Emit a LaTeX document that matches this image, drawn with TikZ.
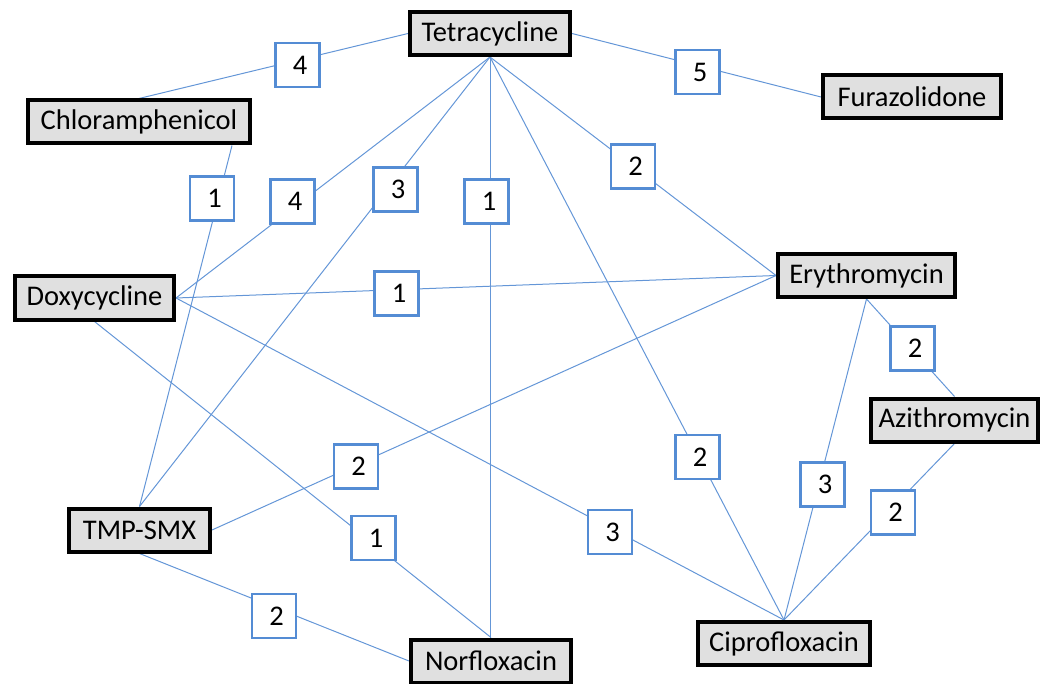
\documentclass[tikz,border=0pt]{standalone}
\usepackage{fontspec}
\setmainfont{Carlito}
\usetikzlibrary{backgrounds}
\definecolor{boxgray}{RGB}{224,224,224}
\definecolor{numblue}{RGB}{84,140,212}
\definecolor{edgeblue}{RGB}{100,150,215}
\tikzset{
  drug/.style={draw=black, line width=4pt, fill=boxgray, minimum height=43pt, inner sep=0pt,
    font=\fontsize{28.5}{30}\selectfont},
  num/.style={draw=numblue, line width=2.5pt, fill=white, minimum size=44pt, inner sep=0pt,
    font=\fontsize{28.5}{30}\selectfont, execute at begin node={\hspace*{5pt}}},
  edge/.style={draw=edgeblue, line width=1pt}
}
\begin{document}
\begin{tikzpicture}[x=1pt,y=-1pt]
\useasboundingbox (0,0) rectangle (1040,684);
% drug boxes
\node[drug, minimum width=160pt] (tet) at (490,33.5) {Tetracycline};
\node[drug, minimum width=222pt] (chl) at (139,122) {Chloramphenicol};
\node[drug, minimum width=178pt] (fur) at (912,97) {Furazolidone};
\node[drug, minimum width=159pt] (dox) at (94.5,298) {Doxycycline};
\node[drug, minimum width=177pt] (ery) at (866.5,275.5) {Erythromycin};
\node[drug, minimum width=167pt] (azi) at (954.5,420) {Azithromycin};
\node[drug, minimum width=141pt] (tmp) at (139.5,530) {TMP-SMX};
\node[drug, minimum width=160pt] (nor) at (491,661) {Norfloxacin};
\node[drug, minimum width=172pt] (cip) at (784,643.5) {Ciprofloxacin};
% number labels
\node[num] (n1) at (297.5,65) {4};
\node[num] (n2) at (697.5,72) {5};
\node[num] (n3) at (212,198.5) {1};
\node[num] (n4) at (292.5,201.5) {4};
\node[num] (n5) at (395.5,189.5) {3};
\node[num] (n6) at (486.5,201.5) {1};
\node[num] (n7) at (396.5,293.5) {1};
\node[num] (n8) at (633,166.5) {2};
\node[num] (n9) at (912.5,348.5) {2};
\node[num] (n10) at (356,466.5) {2};
\node[num] (n11) at (373.5,538) {1};
\node[num] (n12) at (274,616) {2};
\node[num] (n13) at (697.5,457) {2};
\node[num] (n14) at (610,532) {3};
\node[num] (n15) at (822.5,484.5) {3};
\node[num] (n16) at (893,512.5) {2};
% connectors
\begin{pgfonlayer}{background}
\draw[edge] (chl.north) -- (tet.west);
\draw[edge] (tet.east) -- (fur.west);
\draw[edge] ([xshift=-20pt]chl.south east) -- (tmp.north);
\draw[edge] (tet.south) -- (dox.east);
\draw[edge] (tet.south) -- (tmp.north);
\draw[edge] (tet.south) -- (tet.south |- nor.north);
\draw[edge] (dox.east) -- (ery.west);
\draw[edge] (tet.south) -- (ery.west);
\draw[edge] (ery.south) -- (azi.north);
\draw[edge] (ery.west) -- (tmp.east);
\draw[edge] (dox.south) -- (nor.north);
\draw[edge] (tmp.south) -- (nor.west);
\draw[edge] (tet.south) -- (cip.north);
\draw[edge] (dox.east) -- (cip.north);
\draw[edge] (ery.south) -- (cip.north);
\draw[edge] (azi.south) -- (cip.north);
\end{pgfonlayer}
\end{tikzpicture}
\end{document}
